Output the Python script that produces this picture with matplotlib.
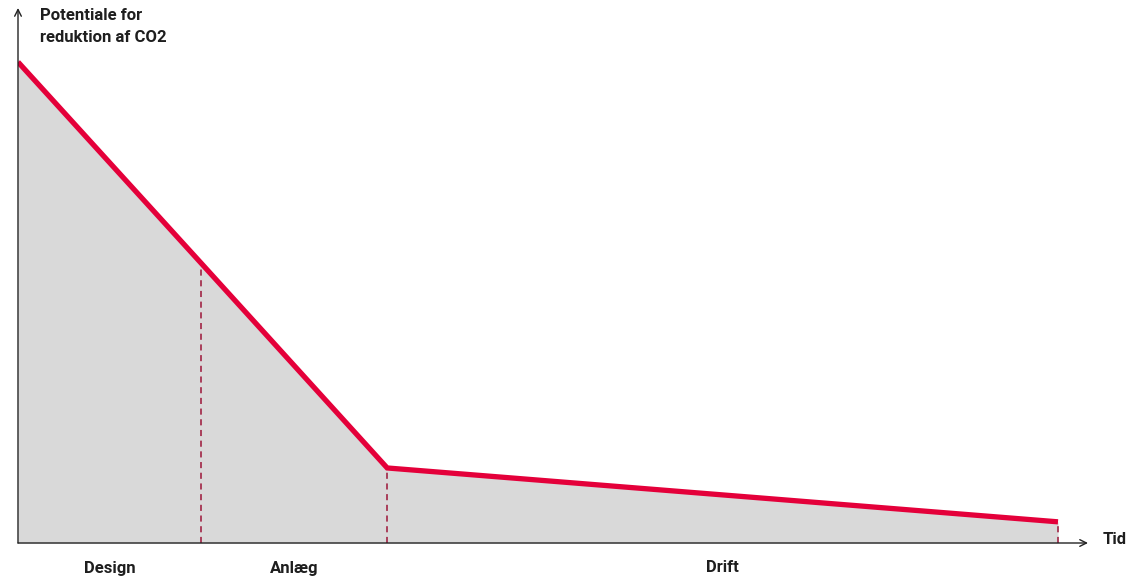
import matplotlib.pyplot as plt

# phase boundaries along the time axis and the reduction potential there
phase_x = [0, 17.6, 35.5, 100]
potential = [100, 58.2, 15.6, 4.4]
phase_names = ["Design", "Anlæg", "Drift"]

RED = "#e4003a"
DASH = "#9c1538"
FILL = "#d9d9d9"

plt.rcParams['font.family'] = ['Roboto', 'DejaVu Sans']

fig = plt.figure(figsize=(11.31, 5.76), dpi=100)
W, H = 1131, 576
# axes box: origin at (18, 543) px, right end at 1088, top at 8
ax = fig.add_axes([18 / W, (H - 543) / H, (1088 - 18) / W, (543 - 8) / H])
ax.set_xlim(0, 1070 / 10.4)
ax.set_ylim(0, 535 / 4.81)
ax.axis("off")

ax.fill_between(phase_x, potential, 0, color=FILL, lw=0, zorder=1)
for x, y in zip(phase_x[1:], potential[1:]):
    ax.plot([x, x], [0, y], color=DASH, lw=1.1, ls=(0, (4, 3)), zorder=2)
ax.plot(phase_x, potential, color=RED, lw=3.8, solid_joinstyle="miter",
        solid_capstyle="butt", zorder=3)

# axes with arrow heads
arrow = dict(arrowstyle="->", color="#222222", lw=1.0, mutation_scale=12,
             shrinkA=0, shrinkB=0)
ax.annotate("", xy=(1, 0), xytext=(0, 0), xycoords="axes fraction",
            arrowprops=arrow, zorder=4)
ax.annotate("", xy=(0, 1), xytext=(0, 0), xycoords="axes fraction",
            arrowprops=arrow, zorder=4)

txt = dict(fontsize=12, fontweight="bold", color="#1e1e1e")
fig.text(40 / W, 1 - 8 / H, "Potentiale for\nreduktion af CO2", ha="left",
         va="top", linespacing=1.55, **txt)
fig.text(1103 / W, 1 - 539 / H, "Tid", ha="left", va="center", **txt)

for name, x0, x1 in zip(phase_names, phase_x[:-1], phase_x[1:]):
    ax.text((x0 + x1) / 2, -25 / 4.81, name, ha="center", va="center",
            clip_on=False, **txt)

fig.savefig("out.png", dpi=100)
